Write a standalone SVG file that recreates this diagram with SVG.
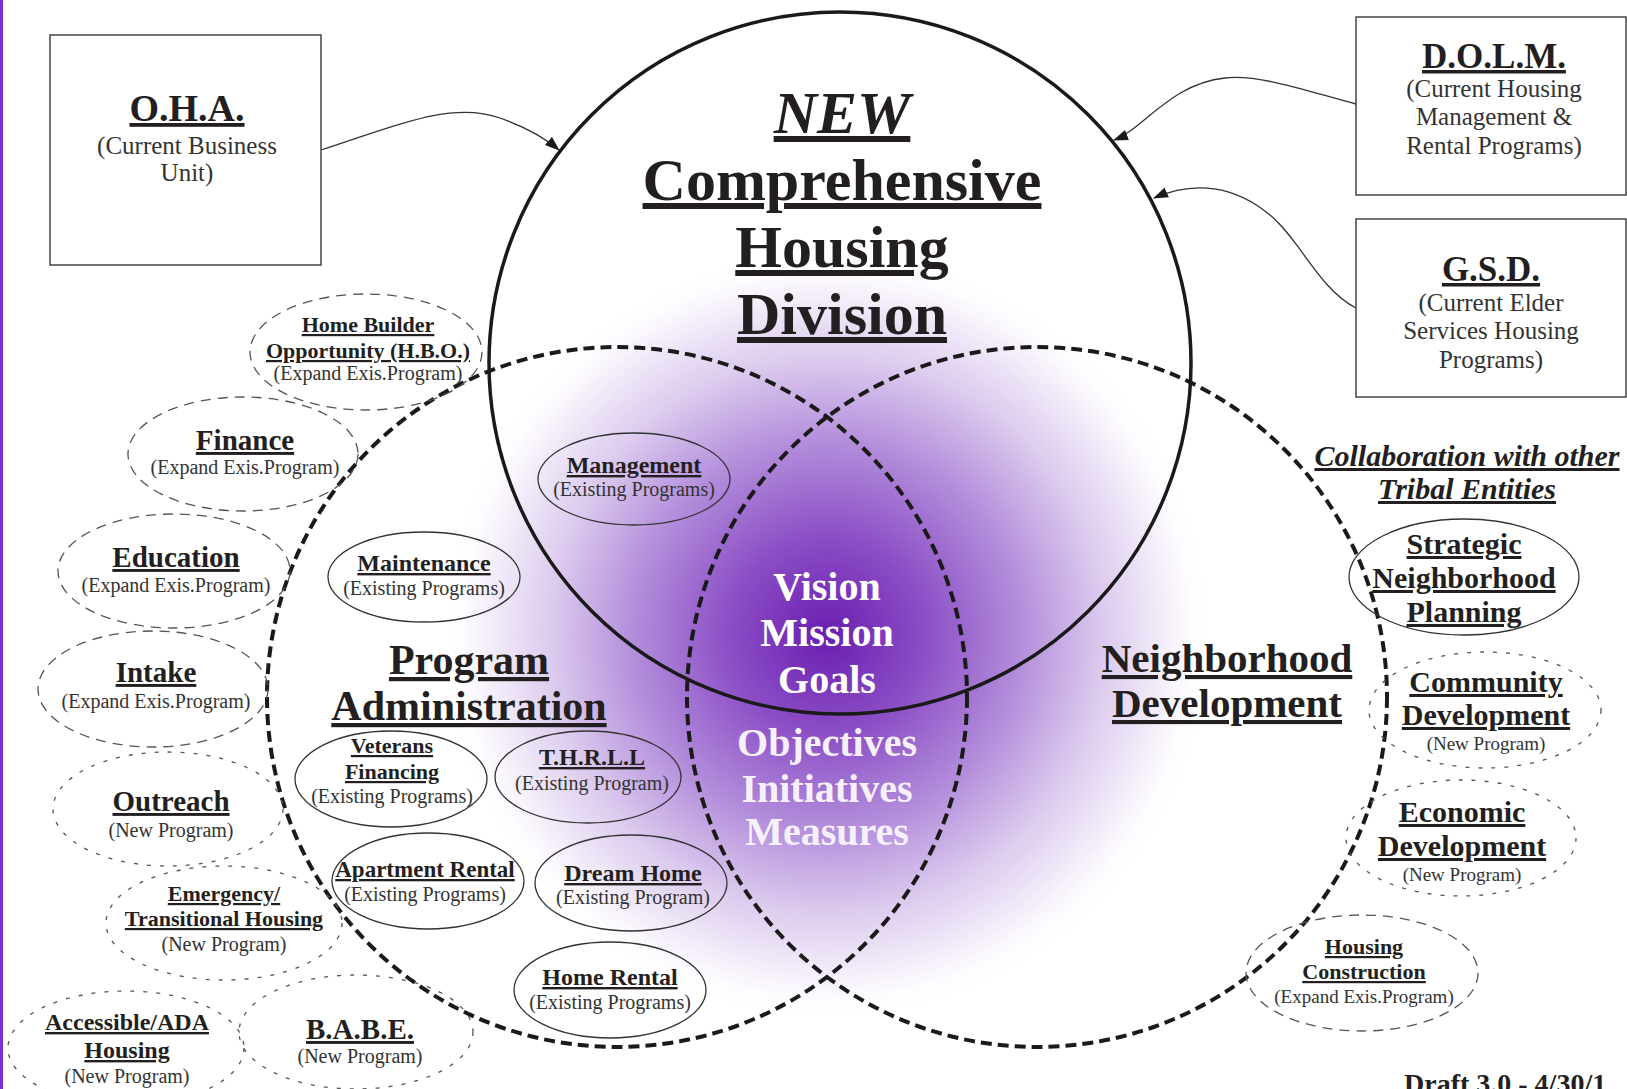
<svg xmlns="http://www.w3.org/2000/svg" width="1627" height="1089" viewBox="0 0 1627 1089">
<defs>
<radialGradient id="glow" cx="827" cy="635" r="385" gradientUnits="userSpaceOnUse">
<stop offset="0" stop-color="#6a1eb0"/>
<stop offset="0.25" stop-color="#8b4dc5"/>
<stop offset="0.5" stop-color="#b28ddb"/>
<stop offset="0.72" stop-color="#dccbee"/>
<stop offset="0.9" stop-color="#f7f2fb"/>
<stop offset="1" stop-color="#ffffff" stop-opacity="0"/>
</radialGradient>
<marker id="ah" viewBox="0 0 14 10" refX="13" refY="5" markerWidth="15" markerHeight="11" markerUnits="userSpaceOnUse" orient="auto"><path d="M0,0 L14,5 L0,10 z" fill="#1a1a1a"/></marker>
<style>
.t{font-family:"Liberation Serif","Times New Roman",serif;fill:#231f20;text-anchor:middle}
.b{font-weight:bold;text-decoration:underline}
.bi{font-weight:bold;font-style:italic;text-decoration:underline}
.s{fill:#333}
.w{fill:#fff;font-weight:bold}
.w2{fill:#f6f0fb;font-weight:bold}
.box{fill:#fff;stroke:#444;stroke-width:1.5}
.sol{fill:none;stroke:#333;stroke-width:1.3}
.dl{fill:none;stroke:#555;stroke-width:1.3;stroke-dasharray:10 7}
.ds{fill:none;stroke:#555;stroke-width:1.3;stroke-dasharray:4 9}
.big{fill:none;stroke:#1a1a1a;stroke-width:4;stroke-dasharray:11 6}
.top{fill:none;stroke:#1a1a1a;stroke-width:3.5}
.conn{fill:none;stroke:#333;stroke-width:1.3;marker-end:url(#ah)}
</style>
</defs>
<rect x="0" y="0" width="1627" height="1089" fill="#fff"/>
<rect x="0" y="0" width="3" height="1089" fill="#7a2fd6"/>
<circle cx="827" cy="635" r="385" fill="url(#glow)"/>

<g id="circles">
<circle id="program-admin-circle" cx="617" cy="697" r="350" class="big"/>
<circle id="neighborhood-circle" cx="1037" cy="697" r="350" class="big"/>
<circle id="housing-division-circle" cx="840" cy="363" r="351" class="top"/>
</g>

<g id="connectors">
<path class="conn" d="M321,150 C390,128 450,100 500,118 C525,127 545,138 559,150"/>
<path class="conn" d="M1356,104 C1310,92 1260,74 1225,78 C1170,84 1145,128 1114,140"/>
<path class="conn" d="M1356,308 C1320,290 1300,240 1270,215 C1235,186 1195,180 1154,198"/>
</g>

<g id="oha">
<rect x="50" y="35" width="271" height="230" class="box"/>
<text class="t b" x="187" y="121" font-size="38">O.H.A.</text>
<text class="t s" x="187" y="154" font-size="25">(Current Business</text>
<text class="t s" x="187" y="181" font-size="25">Unit)</text>
</g>
<g id="dolm">
<rect x="1356" y="17" width="270" height="178" class="box"/>
<text class="t b" x="1494" y="68" font-size="35">D.O.L.M.</text>
<text class="t s" x="1494" y="97" font-size="25">(Current Housing</text>
<text class="t s" x="1494" y="125" font-size="25">Management &amp;</text>
<text class="t s" x="1494" y="154" font-size="25">Rental Programs)</text>
</g>
<g id="gsd">
<rect x="1356" y="219" width="270" height="178" class="box"/>
<text class="t b" x="1491" y="281" font-size="35">G.S.D.</text>
<text class="t s" x="1491" y="311" font-size="25">(Current Elder</text>
<text class="t s" x="1491" y="339" font-size="25">Services Housing</text>
<text class="t s" x="1491" y="368" font-size="25">Programs)</text>
</g>

<g id="title">
<text class="t bi" x="842" y="133" font-size="60">NEW</text>
<text class="t b" x="842" y="200" font-size="60">Comprehensive</text>
<text class="t b" x="842" y="267" font-size="60">Housing</text>
<text class="t b" x="842" y="334" font-size="60">Division</text>
</g>

<g id="program-administration">
<text class="t b" x="469" y="674" font-size="42">Program</text>
<text class="t b" x="469" y="720" font-size="42">Administration</text>
</g>
<g id="neighborhood-development">
<text class="t b" x="1227" y="672" font-size="41">Neighborhood</text>
<text class="t b" x="1227" y="717" font-size="41">Development</text>
</g>
<g id="core">
<text class="t w" x="827" y="600" font-size="40">Vision</text>
<text class="t w" x="827" y="646" font-size="40">Mission</text>
<text class="t w" x="827" y="693" font-size="40">Goals</text>
<text class="t w2" x="827" y="756" font-size="40">Objectives</text>
<text class="t w2" x="827" y="802" font-size="40">Initiatives</text>
<text class="t w2" x="827" y="845" font-size="40">Measures</text>
</g>
<g id="collaboration">
<text class="t bi" x="1467" y="466" font-size="30">Collaboration with other</text>
<text class="t bi" x="1467" y="499" font-size="30">Tribal Entities</text>
</g>

<g id="management">
<ellipse cx="634" cy="479" rx="96" ry="46" class="sol"/>
<text class="t b" x="634" y="473" font-size="24">Management</text>
<text class="t s" x="634" y="496" font-size="20">(Existing Programs)</text>
</g>
<g id="maintenance">
<ellipse cx="424" cy="577" rx="96" ry="45" class="sol"/>
<text class="t b" x="424" y="571" font-size="24">Maintenance</text>
<text class="t s" x="424" y="595" font-size="20">(Existing Programs)</text>
</g>
<g id="veterans">
<ellipse cx="391" cy="779" rx="96" ry="48" class="sol"/>
<text class="t b" x="392" y="753" font-size="22">Veterans</text>
<text class="t b" x="392" y="779" font-size="22">Financing</text>
<text class="t s" x="392" y="803" font-size="20">(Existing Programs)</text>
</g>
<g id="thrll">
<ellipse cx="588" cy="777" rx="93" ry="46" class="sol"/>
<text class="t b" x="592" y="765" font-size="24">T.H.R.L.L</text>
<text class="t s" x="592" y="790" font-size="20">(Existing Program)</text>
</g>
<g id="apartment-rental">
<ellipse cx="428" cy="881" rx="96" ry="48" class="sol"/>
<text class="t b" x="425" y="877" font-size="23">Apartment Rental</text>
<text class="t s" x="425" y="901" font-size="20">(Existing Programs)</text>
</g>
<g id="dream-home">
<ellipse cx="631" cy="883" rx="96" ry="48" class="sol"/>
<text class="t b" x="633" y="881" font-size="24">Dream Home</text>
<text class="t s" x="633" y="904" font-size="20">(Existing Program)</text>
</g>
<g id="home-rental">
<ellipse cx="610" cy="990" rx="96" ry="48" class="sol"/>
<text class="t b" x="610" y="985" font-size="24">Home Rental</text>
<text class="t s" x="610" y="1009" font-size="20">(Existing Programs)</text>
</g>
<g id="strategic">
<ellipse cx="1464" cy="577" rx="115" ry="58" class="sol"/>
<text class="t b" x="1464" y="554" font-size="30">Strategic</text>
<text class="t b" x="1464" y="588" font-size="30">Neighborhood</text>
<text class="t b" x="1464" y="622" font-size="30">Planning</text>
</g>

<g id="hbo">
<ellipse cx="366" cy="352" rx="116" ry="58" class="dl"/>
<text class="t b" x="368" y="332" font-size="22">Home Builder</text>
<text class="t b" x="368" y="358" font-size="22">Opportunity (H.B.O.)</text>
<text class="t s" x="368" y="380" font-size="20">(Expand Exis.Program)</text>
</g>
<g id="finance">
<ellipse cx="243" cy="454" rx="115" ry="57" class="dl"/>
<text class="t b" x="245" y="450" font-size="29">Finance</text>
<text class="t s" x="245" y="474" font-size="20">(Expand Exis.Program)</text>
</g>
<g id="education">
<ellipse cx="174" cy="571" rx="116" ry="57" class="dl"/>
<text class="t b" x="176" y="567" font-size="29">Education</text>
<text class="t s" x="176" y="592" font-size="20">(Expand Exis.Program)</text>
</g>
<g id="intake">
<ellipse cx="153" cy="689" rx="115" ry="58" class="dl"/>
<text class="t b" x="156" y="682" font-size="29">Intake</text>
<text class="t s" x="156" y="708" font-size="20">(Expand Exis.Program)</text>
</g>
<g id="outreach">
<ellipse cx="168" cy="809" rx="115" ry="57" class="ds"/>
<text class="t b" x="171" y="811" font-size="29">Outreach</text>
<text class="t s" x="171" y="837" font-size="20">(New Program)</text>
</g>
<g id="emergency">
<ellipse cx="224" cy="923" rx="118" ry="57" class="ds"/>
<text class="t b" x="224" y="901" font-size="22">Emergency/</text>
<text class="t b" x="224" y="926" font-size="22">Transitional Housing</text>
<text class="t s" x="224" y="951" font-size="20">(New Program)</text>
</g>
<g id="accessible">
<ellipse cx="126" cy="1048" rx="118" ry="57" class="ds"/>
<text class="t b" x="127" y="1030" font-size="24">Accessible/ADA</text>
<text class="t b" x="127" y="1058" font-size="24">Housing</text>
<text class="t s" x="127" y="1083" font-size="20">(New Program)</text>
</g>
<g id="babe">
<ellipse cx="356" cy="1032" rx="117" ry="57" class="ds"/>
<text class="t b" x="360" y="1039" font-size="29">B.A.B.E.</text>
<text class="t s" x="360" y="1063" font-size="20">(New Program)</text>
</g>
<g id="community">
<ellipse cx="1485" cy="710" rx="116" ry="58" class="ds"/>
<text class="t b" x="1486" y="692" font-size="30">Community</text>
<text class="t b" x="1486" y="725" font-size="30">Development</text>
<text class="t s" x="1486" y="750" font-size="19">(New Program)</text>
</g>
<g id="economic">
<ellipse cx="1461" cy="838" rx="115" ry="58" class="ds"/>
<text class="t b" x="1462" y="822" font-size="30">Economic</text>
<text class="t b" x="1462" y="856" font-size="30">Development</text>
<text class="t s" x="1462" y="881" font-size="19">(New Program)</text>
</g>
<g id="housing-construction">
<ellipse cx="1362" cy="973" rx="116" ry="58" class="dl"/>
<text class="t b" x="1364" y="954" font-size="22">Housing</text>
<text class="t b" x="1364" y="979" font-size="22">Construction</text>
<text class="t s" x="1364" y="1003" font-size="19">(Expand Exis.Program)</text>
</g>

<text class="t" x="1404" y="1093" font-size="28" font-weight="bold" style="text-anchor:start">Draft 3.0 - 4/30/1</text>
</svg>
